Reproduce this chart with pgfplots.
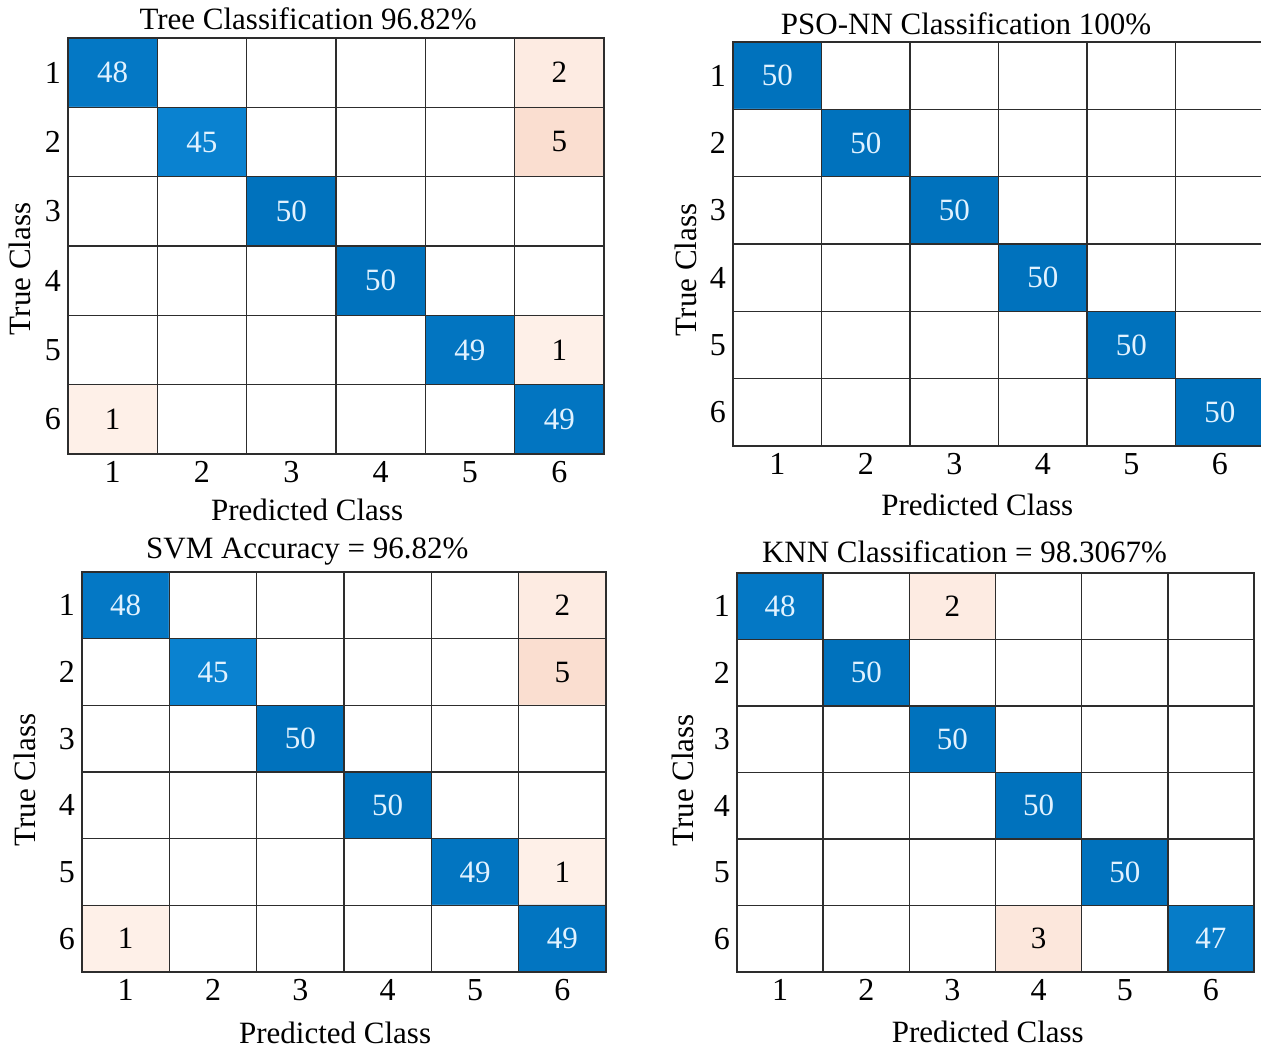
\documentclass[border=0pt]{standalone}
\usepackage{pgfplots}
\usepackage{pgfplotstable}
\usepackage{fontspec}
\setmainfont{Liberation Serif}
\pgfplotsset{compat=1.18}
\definecolor{gridc}{RGB}{45,45,45}
\definecolor{celltxt}{RGB}{225,242,255}

\pgfplotstableread{
x y c v d
1 1 48 48 1
2 1 0 0 0
3 1 0 0 0
4 1 0 0 0
5 1 0 0 0
6 1 -2 2 0
1 2 0 0 0
2 2 45 45 1
3 2 0 0 0
4 2 0 0 0
5 2 0 0 0
6 2 -5 5 0
1 3 0 0 0
2 3 0 0 0
3 3 50 50 1
4 3 0 0 0
5 3 0 0 0
6 3 0 0 0
1 4 0 0 0
2 4 0 0 0
3 4 0 0 0
4 4 50 50 1
5 4 0 0 0
6 4 0 0 0
1 5 0 0 0
2 5 0 0 0
3 5 0 0 0
4 5 0 0 0
5 5 49 49 1
6 5 -1 1 0
1 6 -1 1 0
2 6 0 0 0
3 6 0 0 0
4 6 0 0 0
5 6 0 0 0
6 6 49 49 1
}\treetab

\pgfplotstableread{
x y c v d
1 1 50 50 1
2 1 0 0 0
3 1 0 0 0
4 1 0 0 0
5 1 0 0 0
6 1 0 0 0
1 2 0 0 0
2 2 50 50 1
3 2 0 0 0
4 2 0 0 0
5 2 0 0 0
6 2 0 0 0
1 3 0 0 0
2 3 0 0 0
3 3 50 50 1
4 3 0 0 0
5 3 0 0 0
6 3 0 0 0
1 4 0 0 0
2 4 0 0 0
3 4 0 0 0
4 4 50 50 1
5 4 0 0 0
6 4 0 0 0
1 5 0 0 0
2 5 0 0 0
3 5 0 0 0
4 5 0 0 0
5 5 50 50 1
6 5 0 0 0
1 6 0 0 0
2 6 0 0 0
3 6 0 0 0
4 6 0 0 0
5 6 0 0 0
6 6 50 50 1
}\psotab

\pgfplotstableread{
x y c v d
1 1 48 48 1
2 1 0 0 0
3 1 0 0 0
4 1 0 0 0
5 1 0 0 0
6 1 -2 2 0
1 2 0 0 0
2 2 45 45 1
3 2 0 0 0
4 2 0 0 0
5 2 0 0 0
6 2 -5 5 0
1 3 0 0 0
2 3 0 0 0
3 3 50 50 1
4 3 0 0 0
5 3 0 0 0
6 3 0 0 0
1 4 0 0 0
2 4 0 0 0
3 4 0 0 0
4 4 50 50 1
5 4 0 0 0
6 4 0 0 0
1 5 0 0 0
2 5 0 0 0
3 5 0 0 0
4 5 0 0 0
5 5 49 49 1
6 5 -1 1 0
1 6 -1 1 0
2 6 0 0 0
3 6 0 0 0
4 6 0 0 0
5 6 0 0 0
6 6 49 49 1
}\svmtab

\pgfplotstableread{
x y c v d
1 1 48 48 1
2 1 0 0 0
3 1 -2 2 0
4 1 0 0 0
5 1 0 0 0
6 1 0 0 0
1 2 0 0 0
2 2 50 50 1
3 2 0 0 0
4 2 0 0 0
5 2 0 0 0
6 2 0 0 0
1 3 0 0 0
2 3 0 0 0
3 3 50 50 1
4 3 0 0 0
5 3 0 0 0
6 3 0 0 0
1 4 0 0 0
2 4 0 0 0
3 4 0 0 0
4 4 50 50 1
5 4 0 0 0
6 4 0 0 0
1 5 0 0 0
2 5 0 0 0
3 5 0 0 0
4 5 0 0 0
5 5 50 50 1
6 5 0 0 0
1 6 0 0 0
2 6 0 0 0
3 6 0 0 0
4 6 -3 3 0
5 6 0 0 0
6 6 47 47 1
}\knntab

\pgfplotsset{
 colormap={cm}{rgb255(0pt)=(250,222,208) rgb255(4pt)=(254,240,232) rgb255(5pt)=(255,255,255) rgb255(50pt)=(10,130,208) rgb255(55pt)=(0,114,189)},
 cmstyle/.style={
  scale only axis, anchor=south west,
  xmin=0.5, xmax=6.5, ymin=0.5, ymax=6.5, y dir=reverse,
  enlargelimits=false,
  xtick={1,...,6}, ytick={1,...,6},
  minor xtick={0.5,1.5,...,6.5}, minor ytick={0.5,1.5,...,6.5},
  major tick length=0pt, minor tick length=0pt,
  xminorgrids=true, yminorgrids=true,
  minor grid style={line width=0.8pt, gridc},
  axis line style={line width=0.8pt, gridc},
  axis on top,
  colormap name=cm, point meta min=-5, point meta max=50,
  font=\fontsize{15.5}{18.5}\selectfont,
  ticklabel style={font=\fontsize{16}{19}\selectfont},
  /pgf/number format/assume math mode=true,
  yticklabel style={xshift=0pt},
  xlabel={Predicted Class}, ylabel={True Class},
  title style={anchor=center},
  xlabel style={anchor=center},
  ylabel style={anchor=center},
 },
 cmcells/.style={matrix plot, mesh/cols=6, point meta=explicit},
 diaglab/.style={draw=none, mark=none, point meta=explicit symbolic,
  restrict expr to domain={\thisrow{v}*\thisrow{d}}{1:1000},
  nodes near coords={\pgfplotspointmeta},
  every node near coord/.append style={anchor=center, text=celltxt, font=\fontsize{15.5}{18.5}\selectfont}},
 offlab/.style={draw=none, mark=none, point meta=explicit symbolic,
  restrict expr to domain={\thisrow{v}*(1-\thisrow{d})}{1:1000},
  nodes near coords={\pgfplotspointmeta},
  every node near coord/.append style={anchor=center, text=black, font=\fontsize{15.5}{18.5}\selectfont}},
}

\begin{document}
\begin{tikzpicture}
\useasboundingbox (0,0) rectangle (630.5pt,524pt);

% Top-left: Tree
\begin{axis}[cmstyle, at={(34pt,297pt)}, width=268pt, height=208pt,
  title={Tree Classification 96.82\%},
  title style={at={(axis description cs:0.448,1)}, yshift=3.5pt},
  xlabel style={at={(axis description cs:0.446,0)}, yshift=-28pt},
  ylabel style={at={(axis description cs:-0.0896,0.445)}}]
\addplot[cmcells] table[x=x, y=y, meta=c] {\treetab};
\addplot[diaglab] table[x=x, y=y, meta=v] {\treetab};
\addplot[offlab] table[x=x, y=y, meta=v] {\treetab};
\end{axis}

% Top-right: PSO-NN
\begin{axis}[cmstyle, at={(366.5pt,301pt)}, width=265.5pt, height=202pt,
  title={PSO-NN Classification 100\%},
  title style={at={(axis description cs:0.439,1)}, yshift=3pt},
  xlabel style={at={(axis description cs:0.46,0)}, yshift=-29.5pt},
  ylabel style={at={(axis description cs:-0.0885,0.436)}}]
\addplot[cmcells] table[x=x, y=y, meta=c] {\psotab};
\addplot[diaglab] table[x=x, y=y, meta=v] {\psotab};
\end{axis}

% Bottom-left: SVM
\begin{axis}[cmstyle, at={(41pt,38pt)}, width=262pt, height=200pt,
  title={SVM Accuracy = 96.82\%},
  title style={at={(axis description cs:0.43,1)}, yshift=4pt},
  xlabel style={at={(axis description cs:0.483,0)}, yshift=-30.5pt},
  ylabel style={at={(axis description cs:-0.1088,0.48)}}]
\addplot[cmcells] table[x=x, y=y, meta=c] {\svmtab};
\addplot[diaglab] table[x=x, y=y, meta=v] {\svmtab};
\addplot[offlab] table[x=x, y=y, meta=v] {\svmtab};
\end{axis}

% Bottom-right: KNN
\begin{axis}[cmstyle, at={(368.5pt,38pt)}, width=258.5pt, height=199.5pt,
  title={KNN Classification = 98.3067\%},
  title style={at={(axis description cs:0.44,1)}, yshift=4.5pt},
  xlabel style={at={(axis description cs:0.485,0)}, yshift=-30pt},
  ylabel style={at={(axis description cs:-0.1044,0.48)}}]
\addplot[cmcells] table[x=x, y=y, meta=c] {\knntab};
\addplot[diaglab] table[x=x, y=y, meta=v] {\knntab};
\addplot[offlab] table[x=x, y=y, meta=v] {\knntab};
\end{axis}
\end{tikzpicture}
\end{document}
